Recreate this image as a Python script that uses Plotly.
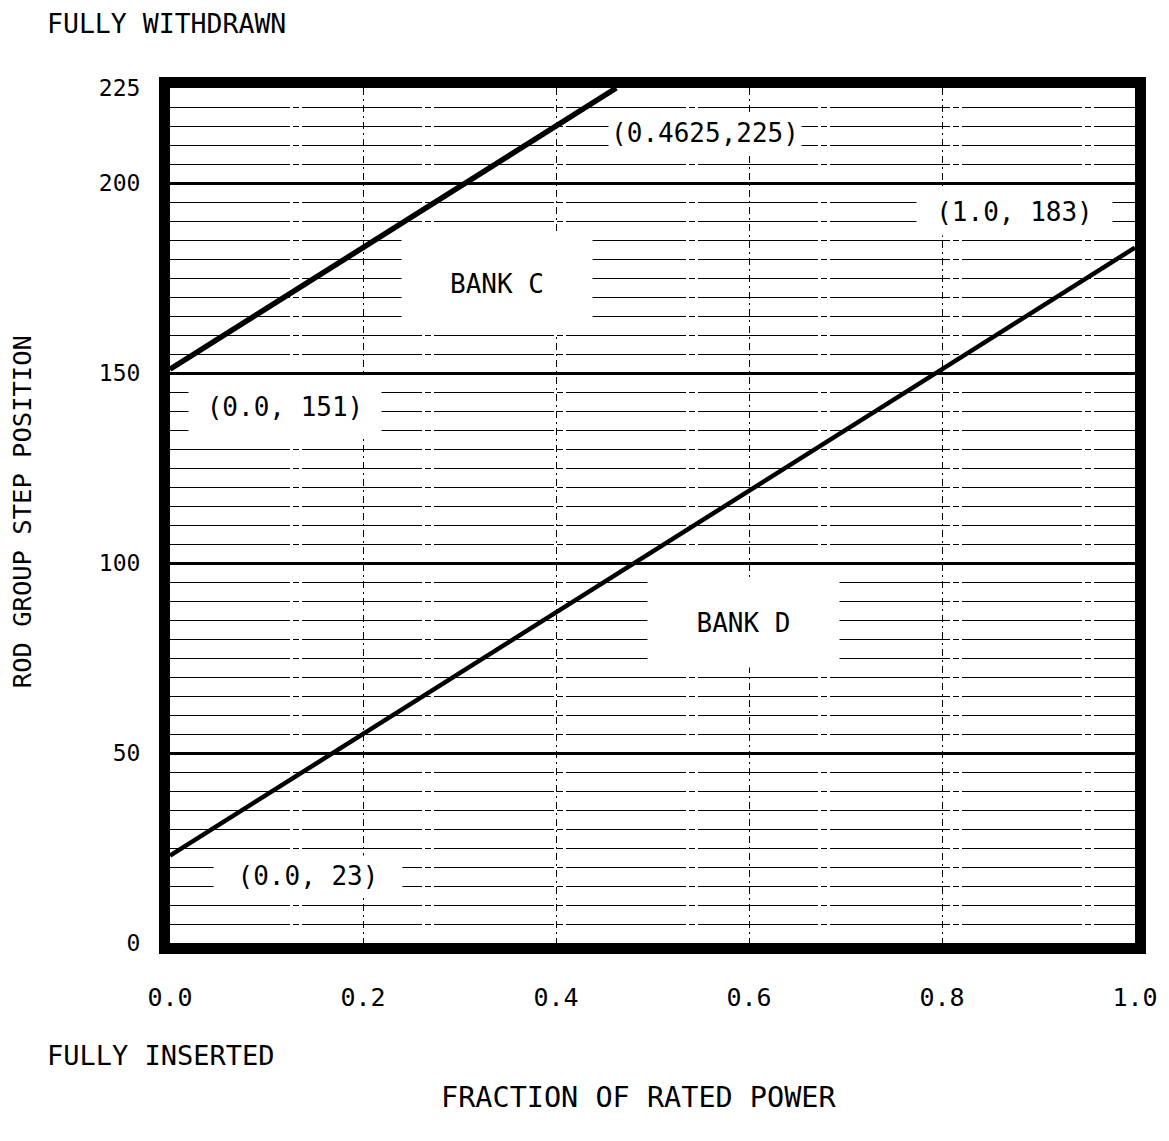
import plotly.graph_objects as go

# ---- data ----
bank_c_power = [0.0, 0.4625]
bank_c_steps = [151, 225]
bank_d_power = [0.0, 1.0]
bank_d_steps = [23, 183]

x_tick_vals = [0.0, 0.2, 0.4, 0.6, 0.8, 1.0]
x_tick_text = ["0.0", "0.2", "0.4", "0.6", "0.8", "1.0"]
y_tick_vals = [0, 50, 100, 150, 200, 225]
y_tick_text = ["0", "50", "100", "150", "200", "225"]

FONT = "DejaVu Sans Mono"

fig = go.Figure()
fig.add_trace(go.Scatter(x=bank_c_power, y=bank_c_steps, mode="lines",
                         line=dict(color="black", width=5.5), name="BANK C",
                         showlegend=False))
fig.add_trace(go.Scatter(x=bank_d_power, y=bank_d_steps, mode="lines",
                         line=dict(color="black", width=4.5), name="BANK D",
                         showlegend=False))

def label(text, x, y, w, h, size=26):
    fig.add_annotation(x=x, y=y, xref="x", yref="y", text=text, showarrow=False,
                       font=dict(family=FONT, size=size, color="black"),
                       bgcolor="white", width=w, height=h, borderpad=0,
                       align="center", valign="middle")

label("BANK C", 0.339, 173.5, 190, 98)
label("BANK D", 0.594, 84.2, 191, 88)
label("(0.4625,225)", 0.554, 213.2, 192, 40)
label("(1.0, 183)", 0.8756, 192.4, 195, 46)
label("(0.0, 151)", 0.119, 141.0, 192, 60)
label("(0.0, 23)", 0.143, 17.6, 188, 40)

def ptext(text, x, y, xanchor="left", angle=0, size=26):
    fig.add_annotation(x=x, y=y, xref="paper", yref="paper", text=text,
                       showarrow=False, xanchor=xanchor, yanchor="middle",
                       textangle=angle,
                       font=dict(family=FONT, size=size, color="black"))

ptext("FULLY WITHDRAWN", -0.1295, 1.076, size=26.5)
ptext("FULLY INSERTED", -0.1295, -0.131, size=27)
ptext("FRACTION OF RATED POWER", 0.486, -0.181, xanchor="center", size=28.5)
ptext("ROD GROUP STEP POSITION", -0.1534, 0.505, xanchor="center", angle=-90,
      size=25.5)

fig.update_xaxes(range=[0, 1], tickvals=x_tick_vals, ticktext=x_tick_text,
                 showline=True, linewidth=11, linecolor="black", mirror=True,
                 ticks="", ticklabelstandoff=22, zeroline=False,
                 showgrid=True, gridcolor="black", gridwidth=1.2,
                 griddash="7px,4px,2px,4px",
                 tickfont=dict(family=FONT, size=25, color="black"))
fig.update_yaxes(range=[0, 225], tickvals=y_tick_vals, ticktext=y_tick_text,
                 showline=True, linewidth=11, linecolor="black", mirror=True,
                 ticks="", ticklabelstandoff=14, zeroline=False,
                 showgrid=True, gridcolor="black", gridwidth=2.5,
                 minor=dict(dtick=5, tick0=0, showgrid=True, gridcolor="black",
                            gridwidth=1.3, griddash="120px,3px,6px,3px"),
                 tickfont=dict(family=FONT, size=23, color="black"))

fig.update_layout(width=1161, height=1133,
                  margin=dict(l=162, r=34, t=80, b=198),
                  paper_bgcolor="white", plot_bgcolor="white",
                  showlegend=False)

fig.write_html("out.html")
